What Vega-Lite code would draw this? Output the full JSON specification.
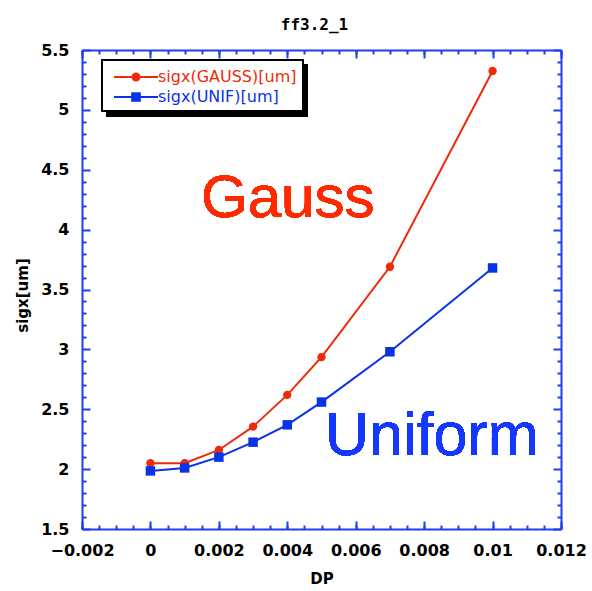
{
  "$schema": "https://vega.github.io/schema/vega-lite/v6.json",
  "width": 479,
  "height": 479,
  "autosize": {"type": "none"},
  "padding": {"left": 82, "top": 50, "right": 31, "bottom": 62},
  "background": "white",
  "title": {"text": "ff3.2_1", "font": "DejaVu Sans Mono", "fontSize": 16, "fontWeight": "bold", "color": "black", "offset": -4, "baseline": "alphabetic", "dx": -7},
  "config": {
    "view": {"stroke": null},
    "axis": {"grid": false, "domainColor": "#1f3ff0", "domainWidth": 2, "tickColor": "#1f3ff0", "tickWidth": 2, "labelColor": "black", "labelFont": "DejaVu Sans", "labelFontWeight": "bold", "labelFontSize": 16, "titleFont": "DejaVu Sans", "titleFontWeight": "bold", "titleFontSize": 15, "titleColor": "black", "labelOverlap": false, "labelFlush": false}
  },
  "data": {"values": [
    {"DP": 0, "sigx": 2.05, "series": "sigx(GAUSS)[um]"},
    {"DP": 0.001, "sigx": 2.05, "series": "sigx(GAUSS)[um]"},
    {"DP": 0.002, "sigx": 2.16, "series": "sigx(GAUSS)[um]"},
    {"DP": 0.003, "sigx": 2.355, "series": "sigx(GAUSS)[um]"},
    {"DP": 0.004, "sigx": 2.62, "series": "sigx(GAUSS)[um]"},
    {"DP": 0.005, "sigx": 2.935, "series": "sigx(GAUSS)[um]"},
    {"DP": 0.007, "sigx": 3.69, "series": "sigx(GAUSS)[um]"},
    {"DP": 0.01, "sigx": 5.325, "series": "sigx(GAUSS)[um]"},
    {"DP": 0, "sigx": 1.985, "series": "sigx(UNIF)[um]"},
    {"DP": 0.001, "sigx": 2.01, "series": "sigx(UNIF)[um]"},
    {"DP": 0.002, "sigx": 2.1, "series": "sigx(UNIF)[um]"},
    {"DP": 0.003, "sigx": 2.225, "series": "sigx(UNIF)[um]"},
    {"DP": 0.004, "sigx": 2.37, "series": "sigx(UNIF)[um]"},
    {"DP": 0.005, "sigx": 2.56, "series": "sigx(UNIF)[um]"},
    {"DP": 0.007, "sigx": 2.98, "series": "sigx(UNIF)[um]"},
    {"DP": 0.01, "sigx": 3.68, "series": "sigx(UNIF)[um]"}
  ]},
  "resolve": {"axis": {"x": "independent", "y": "independent"}},
  "layer": [
    {
      "mark": {"type": "line", "strokeWidth": 2},
      "encoding": {
        "x": {"field": "DP", "type": "quantitative", "scale": {"domain": [-0.002, 0.012], "nice": false, "zero": false},
          "axis": {"orient": "bottom", "title": "DP", "values": [-0.002, 0, 0.002, 0.004, 0.006, 0.008, 0.01, 0.012], "format": "~g", "tickSize": -8, "labelPadding": 21, "titleX": 239.5, "titleY": 49, "titleBaseline": "middle", "titleAlign": "center"}},
        "y": {"field": "sigx", "type": "quantitative", "scale": {"domain": [1.5, 5.5], "nice": false, "zero": false},
          "axis": {"orient": "left", "title": "sigx[um]", "values": [1.5, 2, 2.5, 3, 3.5, 4, 4.5, 5, 5.5], "format": "~g", "tickSize": -8, "labelPadding": 21, "titleX": -60, "titleY": 245, "titleAngle": -90, "titleBaseline": "middle", "titleAlign": "center"}},
        "color": {"field": "series", "type": "nominal",
          "scale": {"domain": ["sigx(GAUSS)[um]", "sigx(UNIF)[um]"], "range": ["#ee2a0a", "#0a32e6"]},
          "legend": {"orient": "none", "legendX": 20, "legendY": 10, "title": null, "fillColor": "white", "strokeColor": "black", "padding": 6, "symbolSize": 400, "symbolStrokeWidth": 2, "labelFont": "DejaVu Sans", "labelFontSize": 16, "labelOffset": 11, "rowPadding": 1, "symbolOffset": 17, "zindex": 2,
            "encode": {
              "legend": {"update": {"strokeWidth": {"value": 2}}},
              "labels": {"update": {"fill": {"scale": "color", "field": "value"}}},
              "symbols": {"update": {
                "shape": {"signal": "datum.value === 'sigx(GAUSS)[um]' ? 'M-2.2,0L2.2,0M0.35,0A0.35,0.35,0,1,1,-0.35,0A0.35,0.35,0,1,1,0.35,0Z' : 'M-2.2,0L2.2,0M-0.38,-0.38L0.38,-0.38L0.38,0.38L-0.38,0.38Z'"},
                "fill": {"scale": "color", "field": "value"},
                "stroke": {"scale": "color", "field": "value"},
                "strokeWidth": {"value": 2},
                "opacity": {"value": 1}
              }}
            }}}
      }
    },
    {
      "mark": {"type": "point", "filled": true, "opacity": 1},
      "encoding": {
        "x": {"field": "DP", "type": "quantitative", "scale": {"domain": [-0.002, 0.012], "nice": false, "zero": false},
          "axis": {"orient": "bottom", "title": null, "labels": false, "domain": false, "tickSize": -4, "values": [-0.002, -0.0015, -0.001, -0.0005, 0, 0.0005, 0.001, 0.0015, 0.002, 0.0025, 0.003, 0.0035, 0.004, 0.0045, 0.005, 0.0055, 0.006, 0.0065, 0.007, 0.0075, 0.008, 0.0085, 0.009, 0.0095, 0.01, 0.0105, 0.011, 0.0115, 0.012]}},
        "y": {"field": "sigx", "type": "quantitative", "scale": {"domain": [1.5, 5.5], "nice": false, "zero": false},
          "axis": {"orient": "left", "title": null, "labels": false, "domain": false, "tickSize": -4, "values": [1.6, 1.7, 1.8, 1.9, 2.1, 2.2, 2.3, 2.4, 2.6, 2.7, 2.8, 2.9, 3.1, 3.2, 3.3, 3.4, 3.6, 3.7, 3.8, 3.9, 4.1, 4.2, 4.3, 4.4, 4.6, 4.7, 4.8, 4.9, 5.1, 5.2, 5.3, 5.4]}},
        "color": {"field": "series", "type": "nominal", "scale": {"domain": ["sigx(GAUSS)[um]", "sigx(UNIF)[um]"], "range": ["#ee2a0a", "#0a32e6"]}, "legend": null},
        "shape": {"field": "series", "type": "nominal", "scale": {"range": ["circle", "square"]},
          "legend": {"orient": "none", "legendX": 24, "legendY": 14, "title": null, "fillColor": "black", "padding": 6, "symbolSize": 100, "symbolStrokeWidth": 0, "labelFont": "DejaVu Sans", "labelFontSize": 16, "labelOffset": 18, "rowPadding": 9, "symbolOffset": 17, "zindex": 1,
            "encode": {
              "labels": {"update": {"opacity": {"value": 0}}},
              "symbols": {"update": {"opacity": {"value": 0}, "size": {"value": 100}}}
            }}},
        "size": {"condition": {"test": "datum.series === 'sigx(GAUSS)[um]'", "value": 70}, "value": 90}
      }
    },
    {
      "mark": {"type": "text", "text": "Gauss", "font": "Liberation Sans", "fontSize": 60, "color": "#ff2a00", "align": "left", "baseline": "alphabetic"},
      "encoding": {
        "x": {"datum": 0.00148, "type": "quantitative", "scale": {"domain": [-0.002, 0.012], "nice": false, "zero": false},
          "axis": {"orient": "top", "title": null, "labels": false, "tickSize": -8, "values": [-0.002, 0, 0.002, 0.004, 0.006, 0.008, 0.01, 0.012]}},
        "y": {"datum": 4.108, "type": "quantitative", "scale": {"domain": [1.5, 5.5], "nice": false, "zero": false},
          "axis": {"orient": "right", "title": null, "labels": false, "tickSize": -8, "values": [1.5, 2, 2.5, 3, 3.5, 4, 4.5, 5, 5.5]}}
      }
    },
    {
      "mark": {"type": "text", "text": "Uniform", "font": "Liberation Sans", "fontSize": 61, "color": "#1438ff", "align": "left", "baseline": "alphabetic"},
      "encoding": {
        "x": {"datum": 0.0051, "type": "quantitative", "scale": {"domain": [-0.002, 0.012], "nice": false, "zero": false},
          "axis": {"orient": "top", "title": null, "labels": false, "domain": false, "tickSize": -4, "values": [-0.002, -0.0015, -0.001, -0.0005, 0, 0.0005, 0.001, 0.0015, 0.002, 0.0025, 0.003, 0.0035, 0.004, 0.0045, 0.005, 0.0055, 0.006, 0.0065, 0.007, 0.0075, 0.008, 0.0085, 0.009, 0.0095, 0.01, 0.0105, 0.011, 0.0115, 0.012]}},
        "y": {"datum": 2.118, "type": "quantitative", "scale": {"domain": [1.5, 5.5], "nice": false, "zero": false},
          "axis": {"orient": "right", "title": null, "labels": false, "domain": false, "tickSize": -4, "values": [1.6, 1.7, 1.8, 1.9, 2.1, 2.2, 2.3, 2.4, 2.6, 2.7, 2.8, 2.9, 3.1, 3.2, 3.3, 3.4, 3.6, 3.7, 3.8, 3.9, 4.1, 4.2, 4.3, 4.4, 4.6, 4.7, 4.8, 4.9, 5.1, 5.2, 5.3, 5.4]}}
      }
    }
  ]
}
